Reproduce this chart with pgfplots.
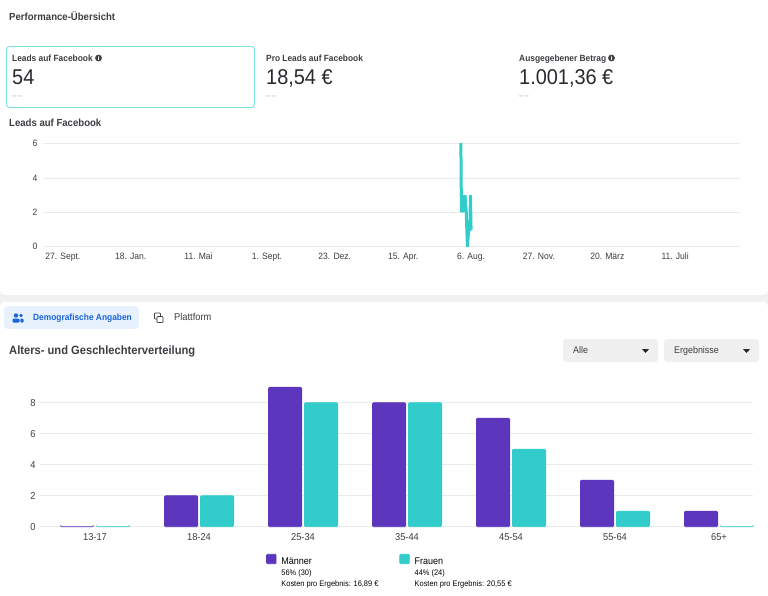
\documentclass[border=0pt]{standalone}
\usepackage{fontspec}
\setmainfont[FakeStretch=0.93]{Liberation Sans}
\usepackage{pgfplots}
\pgfplotsset{compat=1.18}
\definecolor{purp}{RGB}{92,55,190}
\definecolor{teal1}{RGB}{50,205,203}
\definecolor{gridc}{RGB}{235,235,237}
\definecolor{ink}{RGB}{60,62,66}
\definecolor{dark}{RGB}{40,42,46}
\definecolor{soft}{RGB}{240,240,240}
\definecolor{tabblue}{RGB}{231,242,254}
\definecolor{fbblue}{RGB}{27,100,215}
\newcommand{\fs}[1]{\fontsize{#1}{#1}\selectfont}
\newcommand{\infoicon}[2]{%
  \fill[ink] (#1,#2) circle (3.4);
  \fill[white] (#1,#2-1.9) circle (0.55);
  \fill[white] (#1-0.5,#2-0.9) rectangle (#1+0.5,#2+2);}
\newcommand{\caret}[2]{\fill[dark] (#1-3.5,#2-1.8) -- (#1+3.5,#2-1.8) -- (#1,#2+1.8) -- cycle;}
\pgfplotstableread{
d y
663 6.3
664 2
667 3
668 2
670 3
672 2
673 1
674 0
676 1
678 1
679 3
680 1
}\leadsdata
\pgfplotstableread{
i m f
0 0 0
1 2 2
2 9 8
3 8 8
4 7 5
5 3 1
6 1 0
}\agedata
\begin{document}
\begin{tikzpicture}[x=1pt,y=-1pt,
  t/.style={anchor=base west,inner sep=0pt,text=ink}]
% page and cards
\fill[white] (0,0) rectangle (768,595);
\fill[soft] (0,288) rectangle (768,308);
\fill[white,rounded corners=5] (0,270) rectangle (768,295);
\fill[white,rounded corners=5] (0,301.5) rectangle (768,330);

\node[t,font=\fs{10.3}\bfseries] at (9,20) {Performance-Übersicht};
\draw[draw=teal1!65!white,line width=0.9,rounded corners=3] (6.5,46.5) rectangle (254.5,107.5);

\node[t,font=\fs{9}\bfseries] at (12,61) {Leads auf Facebook};
\infoicon{98.5}{58}
\node[t,font=\fs{21.4},text=dark] at (12,84) {54};
\node[t,font=\fs{8},text=black!35] at (12,98) {–\,–};

\node[t,font=\fs{9}\bfseries] at (266,61) {Pro Leads auf Facebook};
\node[t,font=\fs{21.4},text=dark] at (266,84) {18,54 €};
\node[t,font=\fs{8},text=black!35] at (266,98) {–\,–};

\node[t,font=\fs{9}\bfseries] at (519,61) {Ausgegebener Betrag};
\infoicon{611.5}{58}
\node[t,font=\fs{21.4},text=dark] at (519,84) {1.001,36 €};
\node[t,font=\fs{8},text=black!35] at (519,98) {–\,–};

\node[t,font=\fs{10.3}\bfseries] at (9,126) {Leads auf Facebook};

% line chart, x in days from the first tick
\begin{axis}[
  at={(43pt,-246.7pt)},anchor=south west,
  scale only axis,width=697pt,height=103pt,
  xmin=-33,xmax=1128,ymin=0,ymax=6,
  axis line style={draw=none},
  clip=true,
  ytick={0,2,4,6},
  xtick={0,113,226,340,453,567,680,793,907,1020},
  xticklabels={27. Sept.,18. Jan.,11. Mai,1. Sept.,23. Dez.,15. Apr.,6. Aug.,27. Nov.,20. März,11. Juli},
  major tick length=0pt,
  ymajorgrids,
  grid style={gridc,line width=0.9pt},
  tick label style={font=\fs{9.2},text=ink},
  /pgf/number format/assume math mode=true,
  xticklabel style={yshift=-3pt},
  yticklabel style={xshift=-2pt},
]
\addplot[teal1,line width=3pt,line join=miter,miter limit=10] table[x=d,y=y] {\leadsdata};
\end{axis}

% tabs
\fill[tabblue,rounded corners=4] (4,306) rectangle (139,329);
\fill[fbblue] (16,315.5) circle (2.2);
\fill[fbblue] (21,315.5) circle (1.8);
\fill[fbblue,rounded corners=1] (12.5,322.5) rectangle (19.5,318.5);
\fill[fbblue,rounded corners=1] (20.3,322.5) rectangle (23.5,318.5);
\node[t,font=\fs{9}\bfseries,text=fbblue] at (33,320.5) {Demografische Angaben};
\draw[ink,line width=0.7,rounded corners=0.8] (154.5,313) rectangle (160.5,319);
\filldraw[draw=ink,fill=white,line width=0.7,rounded corners=0.8] (157,316.5) rectangle (163,322.5);
\node[t,font=\fs{10}] at (174,320.5) {Plattform};

\node[t,font=\fs{12}\bfseries] at (9,354.5) {Alters- und Geschlechterverteilung};
\fill[soft,rounded corners=3] (563,339) rectangle (658,362);
\fill[soft,rounded corners=3] (664,339) rectangle (759,362);
\node[t,font=\fs{9.6}] at (573,353.5) {Alle};
\node[t,font=\fs{9.6}] at (674,353.5) {Ergebnisse};
\caret{645.5}{351}
\caret{746.5}{351}

% age and gender bars
\begin{axis}[
  at={(40pt,-526.7pt)},anchor=south west,
  scale only axis,width=713pt,height=142.6pt,
  xmin=-0.529,xmax=6.327,ymin=0,ymax=9.2,
  axis line style={draw=none},
  ybar=2.8pt,bar width=33.2pt,
  clip=false,
  xtick=data,
  xticklabels={13-17,18-24,25-34,35-44,45-54,55-64,65+},
  ytick={0,2,4,6,8},
  major tick length=0pt,
  ymajorgrids,
  grid style={gridc,line width=0.9pt},
  tick label style={font=\fs{10},text=ink},
  /pgf/number format/assume math mode=true,
  xticklabel style={yshift=-3pt},
  yticklabel style={xshift=-1pt},
  legend columns=2,
  legend cell align=left,
  legend style={
    at={(226pt,-27pt)},anchor=north west,
    draw=none,fill=none,inner sep=0pt,
    font=\fs{8},
    /tikz/every odd column/.append style={column sep=3pt},
    /tikz/every even column/.append style={column sep=19pt},
  },
  legend image code/.code={
    \path[#1,rounded corners=1pt] (0pt,-1.4pt) rectangle (9.4pt,8pt);
  },
]
\addplot[draw=purp,fill=purp,line width=0.8pt,rounded corners=1.2pt] table[x=i,y=m] {\agedata};
\addplot[draw=teal1,fill=teal1,line width=0.8pt,rounded corners=1.2pt] table[x=i,y=f] {\agedata};
\addlegendentry{\begin{tabular}[t]{@{}l@{}}{\fs{9.7}Männer}\\[2.5pt]56\% (30)\\[2.5pt]Kosten pro Ergebnis: 16,89 €\end{tabular}}
\addlegendentry{\begin{tabular}[t]{@{}l@{}}{\fs{9.7}Frauen}\\[2.5pt]44\% (24)\\[2.5pt]Kosten pro Ergebnis: 20,55 €\end{tabular}}
\end{axis}
\end{tikzpicture}
\end{document}
